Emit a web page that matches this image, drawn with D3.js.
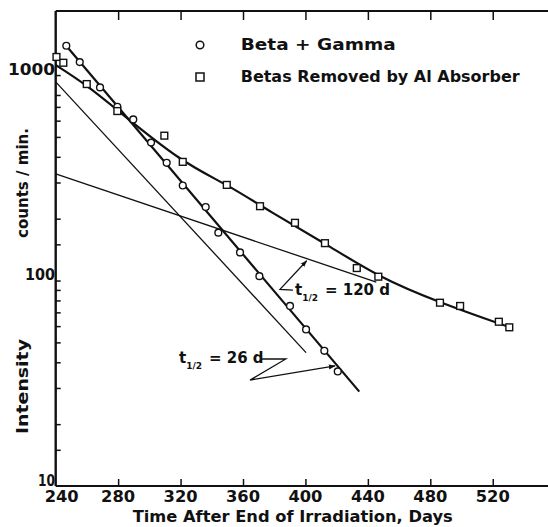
<!DOCTYPE html>
<meta charset="utf-8">
<title>Decay curves</title>
<style>
body { margin: 0; background: #fff; }
svg { display: block; }
text { font-family: "DejaVu Sans", sans-serif; font-weight: bold; fill: #111; }
.axis path, .axis line { stroke: #111; fill: none; }
</style>
<body>
<script src="https://d3js.org/d3.v7.min.js"></script>
<script>

// measured values (days after end of irradiation, counts/min)
var betaGammaDays   = [246.8, 255.4, 268.4, 279.5, 289.7, 301.1, 311.1, 321.4, 336.1, 344.2, 358.1, 370.5, 390.1, 400.4, 412.1, 420.7];
var betaGammaCounts = [1389, 1156, 871, 701, 608, 469, 374, 290, 228, 171, 137, 105, 75.2, 57.8, 45.5, 36.1];

var absorberDays   = [240.5, 244.9, 259.9, 279.5, 309.6, 321.4, 349.6, 370.9, 393.3, 412.5, 432.9, 446.7, 486.2, 499.1, 523.9, 530.6];
var absorberCounts = [1225, 1148, 904, 668, 507, 378, 292, 230, 191, 152, 115, 104.4, 78, 75.2, 63, 59.2];

// hand drawn curve through the absorber points
var absorberCurveDays   = [240, 259.9, 279.5, 321.4, 349.6, 377.3, 412.5, 446.7, 486.2, 530];
var absorberCurveCounts = [1119, 894, 675, 373, 295, 216, 152, 104, 78, 59.6];

// straight fit lines [day, counts]
var fitBetaGamma = [[247, 1380], [434.5, 28.8]];
var fitLong      = [[240, 330], [445.4, 98.3]];
var fitShort     = [[240, 927], [400.4, 44.6]];

// annotation arrows [day, counts]
var arrow120 = [[392.0, 89.9], [383.7, 90.6], [400.8, 124.9]];
var arrow26  = [[370.9, 41.5], [387.4, 41.5], [364.5, 32.8], [419.0, 38.4]];
var label120 = {day: 393.3, counts: 84.9, rest: "= 120 d"};
var label26  = {day: 319.0, counts: 39.8, rest: "= 26 d"};

var xTicks = [240, 280, 320, 360, 400, 440, 480, 520];
var yLabels = [10, 100, 1000];
var yMinor = [15, 20, 30, 40, 50, 60, 70, 80, 90, 150, 200, 300, 400, 500, 600, 700, 800];

var legendItems = ["Beta + Gamma", "Betas  Removed  by Al  Absorber"];

var width = 548, height = 527;

var x = d3.scaleLinear().domain([240, 555.4]).range([55.7, 548]);
var y = d3.scaleLog().domain([10, 2050]).range([486, 11]);

var svg = d3.select("body").append("svg")
    .attr("width", width)
    .attr("height", height);

svg.append("defs").append("marker")
    .attr("id", "head")
    .attr("viewBox", "0 0 10 10")
    .attr("refX", 9).attr("refY", 5)
    .attr("markerWidth", 7).attr("markerHeight", 7)
    .attr("markerUnits", "userSpaceOnUse")
    .attr("orient", "auto")
  .append("path")
    .attr("d", "M0,1.5L10,5L0,8.5Z")
    .style("fill", "#111");

// frame: left, top, bottom
var frame = svg.append("g").attr("class", "axis");
frame.append("line").attr("x1", x(240)).attr("x2", x(240)).attr("y1", y(2050)).attr("y2", y(10)).style("stroke-width", 2.4);
frame.append("line").attr("x1", x(240)).attr("x2", width).attr("y1", y(2050)).attr("y2", y(2050)).style("stroke-width", 2);
frame.append("line").attr("x1", x(240)).attr("x2", width).attr("y1", y(10)).attr("y2", y(10)).style("stroke-width", 2);

// bottom ticks (inward) and labels
var bottomAxis = svg.append("g")
    .attr("class", "axis")
    .attr("transform", "translate(0," + y(10) + ")")
    .call(d3.axisBottom(x).tickValues(xTicks.slice(1)).tickSize(-7).tickFormat(""));
bottomAxis.select(".domain").remove();
bottomAxis.selectAll("line").style("stroke-width", 1.5);

svg.selectAll(".xlab")
    .data(xTicks)
  .enter().append("text")
    .attr("class", "xlab")
    .attr("x", function(d) { return d === 240 ? x(d) + 6 : x(d); })
    .attr("y", 502)
    .attr("text-anchor", "middle")
    .attr("textLength", 34)
    .attr("lengthAdjust", "spacingAndGlyphs")
    .style("font-size", "16px")
    .text(function(d) { return d; });

// top ticks (inward)
var topAxis = svg.append("g")
    .attr("class", "axis")
    .attr("transform", "translate(0," + y(2050) + ")")
    .call(d3.axisTop(x).tickValues(xTicks.slice(1)).tickSize(-9).tickFormat(""));
topAxis.select(".domain").remove();
topAxis.selectAll("line").style("stroke-width", 1.5);

// left ticks (inward)
var leftAxis = svg.append("g")
    .attr("class", "axis")
    .attr("transform", "translate(" + x(240) + ",0)")
    .call(d3.axisLeft(y).tickValues(yMinor.concat([100, 1000])).tickSize(-5).tickFormat(""));
leftAxis.select(".domain").remove();
leftAxis.selectAll("line").style("stroke-width", 1.5);

svg.selectAll(".ylab")
    .data(yLabels)
  .enter().append("text")
    .attr("class", "ylab")
    .attr("x", 55)
    .attr("y", function(d) { return y(d) - 0.5; })
    .attr("text-anchor", "end")
    .attr("textLength", function(d) { return d === 1000 ? 47 : d === 100 ? 30 : 17; })
    .attr("lengthAdjust", "spacingAndGlyphs")
    .style("font-size", "16px")
    .text(function(d) { return d; });

// axis titles
svg.append("text")
    .attr("x", 132.7).attr("y", 522)
    .attr("textLength", 320)
    .attr("lengthAdjust", "spacingAndGlyphs")
    .style("font-size", "15px")
    .text("Time  After  End  of  Irradiation,  Days");

svg.append("text")
    .attr("transform", "translate(27.5,238) rotate(-90)")
    .attr("textLength", 110)
    .attr("lengthAdjust", "spacingAndGlyphs")
    .style("font-size", "15px")
    .text("counts / min.");

svg.append("text")
    .attr("transform", "translate(27.5,434) rotate(-90)")
    .attr("textLength", 95)
    .attr("lengthAdjust", "spacingAndGlyphs")
    .style("font-size", "15px")
    .text("Intensity");

// lines
var line = d3.line()
    .x(function(d) { return x(d[0]); })
    .y(function(d) { return y(d[1]); });

svg.append("path").datum(fitShort).attr("d", line)
    .style("fill", "none").style("stroke", "#111").style("stroke-width", 1.3);
svg.append("path").datum(fitLong).attr("d", line)
    .style("fill", "none").style("stroke", "#111").style("stroke-width", 1.3);
svg.append("path").datum(fitBetaGamma).attr("d", line)
    .style("fill", "none").style("stroke", "#111").style("stroke-width", 2.2);

var curve = d3.zip(absorberCurveDays, absorberCurveCounts);
svg.append("path").datum(curve)
    .attr("d", line.curve(d3.curveBasis))
    .style("fill", "none").style("stroke", "#111").style("stroke-width", 2.2);
line.curve(d3.curveLinear);

// annotations
svg.append("path").datum(arrow120).attr("d", line)
    .attr("marker-end", "url(#head)")
    .style("fill", "none").style("stroke", "#111").style("stroke-width", 1.3);
svg.append("path").datum(arrow26).attr("d", line)
    .attr("marker-end", "url(#head)")
    .style("fill", "none").style("stroke", "#111").style("stroke-width", 1.3);

[label120, label26].forEach(function(l) {
  var t = svg.append("text")
      .attr("x", x(l.day)).attr("y", y(l.counts))
      .style("font-size", "15px");
  t.append("tspan").text("t");
  t.append("tspan").attr("dy", 6).style("font-size", "9px").text("1/2");
  t.append("tspan").attr("dy", -6).attr("dx", 7).text(l.rest);
});

// points
var pts = svg.append("g");
pts.selectAll(".circ")
    .data(d3.zip(betaGammaDays, betaGammaCounts))
  .enter().append("circle")
    .attr("class", "circ")
    .attr("cx", function(d) { return x(d[0]); })
    .attr("cy", function(d) { return y(d[1]); })
    .attr("r", 3.4)
    .style("fill", "#fff").style("stroke", "#111").style("stroke-width", 1.4);

pts.selectAll(".sq")
    .data(d3.zip(absorberDays, absorberCounts))
  .enter().append("rect")
    .attr("class", "sq")
    .attr("x", function(d) { return x(d[0]) - 3.4; })
    .attr("y", function(d) { return y(d[1]) - 3.4; })
    .attr("width", 6.8).attr("height", 6.8)
    .style("fill", "#fff").style("stroke", "#111").style("stroke-width", 1.4);

// legend
var legend = svg.selectAll(".legend")
    .data(legendItems)
  .enter().append("g")
    .attr("class", "legend")
    .attr("transform", function(d, i) { return "translate(200," + (45 + i * 32) + ")"; });

legend.filter(function(d, i) { return i === 0; }).append("circle")
    .attr("r", 3.8)
    .style("fill", "#fff").style("stroke", "#111").style("stroke-width", 1.5);
legend.filter(function(d, i) { return i === 1; }).append("rect")
    .attr("x", -4).attr("y", -4).attr("width", 8).attr("height", 8)
    .style("fill", "#fff").style("stroke", "#111").style("stroke-width", 1.5);

legend.append("text")
    .attr("x", 40.7)
    .attr("y", 5)
    .attr("textLength", function(d, i) { return i === 0 ? 155 : 279; })
    .attr("lengthAdjust", "spacingAndGlyphs")
    .style("font-size", "15px")
    .text(function(d) { return d; });

</script>
</body>
